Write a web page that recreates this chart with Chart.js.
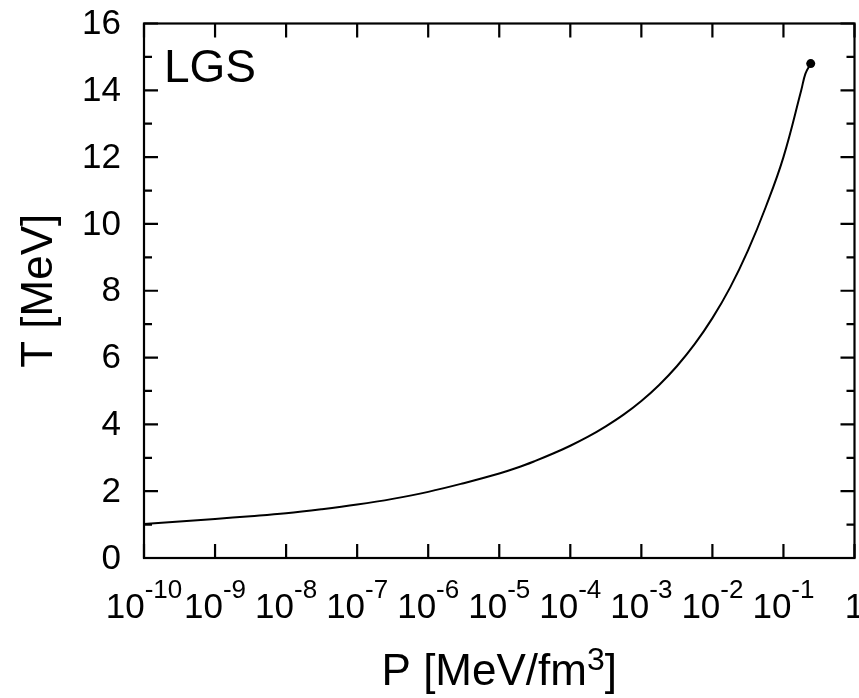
<!DOCTYPE html>
<html>
<head>
<meta charset="utf-8">
<script src="https://cdn.jsdelivr.net/npm/chart.js@4/dist/chart.umd.min.js"></script>
<style>
  html, body { margin: 0; padding: 0; background: #fff; }
  #wrap { width: 859px; height: 698px; position: relative; }
</style>
</head>
<body>
<div id="wrap"><canvas id="grafico"></canvas></div>
<script>
// dados (P em MeV/fm^3, T em MeV)
const pressao = [1e-10, 3.16e-10, 1e-9, 3.16e-9, 1e-8, 3.16e-8, 1e-7, 3.16e-7, 1e-6, 3.16e-6,
                 1e-5, 1.78e-5, 3.16e-5, 5.62e-5, 1e-4, 1.78e-4, 3.16e-4, 5.62e-4,
                 1e-3, 1.78e-3, 3.16e-3, 5.62e-3, 1e-2, 1.78e-2, 3.16e-2, 5.62e-2,
                 0.1, 0.178, 0.204, 0.242];
const temperatura = [1.02, 1.09, 1.17, 1.25, 1.34, 1.46, 1.6, 1.77, 1.98, 2.24,
                     2.53, 2.7, 2.9, 3.12, 3.36, 3.63, 3.94, 4.29,
                     4.7, 5.18, 5.74, 6.4, 7.18, 8.1, 9.2, 10.5,
                     12.0, 14.0, 14.5, 14.8];

// ponto final (marcado com bolinha)
const pontoFinalP = [0.242];
const pontoFinalT = [14.8];

// ticks
const expoentesX = [-10, -9, -8, -7, -6, -5, -4, -3, -2, -1, 0];
const ticksY = [0, 2, 4, 6, 8, 10, 12, 14, 16];
const ticksYMenores = [1, 3, 5, 7, 9, 11, 13, 15];

const rotulo = "LGS";
const tituloX = "P [MeV/fm";
const tituloXExp = "3";
const tituloY = "T [MeV]";

const FONTE = '"Liberation Sans", Arial, Helvetica, sans-serif';

const curva = pressao.map((p, i) => ({ x: p, y: temperatura[i] }));
const ponto = pontoFinalP.map((p, i) => ({ x: p, y: pontoFinalT[i] }));

// desenha moldura, ticks para dentro e textos no estilo gnuplot
const molduraPlugin = {
  id: "moldura",
  afterDraw(chart) {
    const { ctx, chartArea: a, scales } = chart;
    const sx = scales.x, sy = scales.y;
    ctx.save();
    ctx.strokeStyle = "#000";
    ctx.fillStyle = "#000";
    ctx.lineWidth = 2.2;
    ctx.strokeRect(a.left, a.top, a.right - a.left, a.bottom - a.top);

    const maior = 14, menor = 8;
    ctx.beginPath();
    expoentesX.forEach(e => {
      const x = sx.getPixelForValue(Math.pow(10, e));
      ctx.moveTo(x, a.bottom); ctx.lineTo(x, a.bottom - maior);
      ctx.moveTo(x, a.top); ctx.lineTo(x, a.top + maior);
    });
    ticksY.forEach(v => {
      const y = sy.getPixelForValue(v);
      ctx.moveTo(a.left, y); ctx.lineTo(a.left + maior, y);
      ctx.moveTo(a.right, y); ctx.lineTo(a.right - maior, y);
    });
    ticksYMenores.forEach(v => {
      const y = sy.getPixelForValue(v);
      ctx.moveTo(a.left, y); ctx.lineTo(a.left + menor, y);
      ctx.moveTo(a.right, y); ctx.lineTo(a.right - menor, y);
    });
    ctx.stroke();

    // rótulos do eixo y
    ctx.font = "35px " + FONTE;
    ctx.textAlign = "right";
    ctx.textBaseline = "middle";
    ticksY.forEach(v => {
      ctx.fillText(String(v), 121, sy.getPixelForValue(v) + 1);
    });

    // rótulos do eixo x: 10^n
    ctx.textBaseline = "alphabetic";
    ctx.textAlign = "left";
    const baseFonte = "35px " + FONTE, expFonte = "26px " + FONTE;
    expoentesX.forEach(e => {
      const x = sx.getPixelForValue(Math.pow(10, e));
      if (e === 0) {
        ctx.font = baseFonte;
        const w = ctx.measureText("1").width;
        ctx.fillText("1", x - w / 2, 618);
        return;
      }
      ctx.font = baseFonte;
      const wb = ctx.measureText("10").width;
      ctx.font = expFonte;
      const we = ctx.measureText(String(e)).width;
      const x0 = x - (wb + we) / 2;
      ctx.font = baseFonte;
      ctx.fillText("10", x0, 618);
      ctx.font = expFonte;
      ctx.fillText(String(e), x0 + wb, 598);
    });

    // título x com expoente
    ctx.font = "44px " + FONTE;
    const w1 = ctx.measureText(tituloX).width;
    const w3 = ctx.measureText("]").width;
    ctx.font = "32px " + FONTE;
    const w2 = ctx.measureText(tituloXExp).width;
    const cx = (a.left + a.right) / 2;
    let xt = cx - (w1 + w2 + w3) / 2;
    ctx.font = "44px " + FONTE;
    ctx.fillText(tituloX, xt, 685);
    ctx.font = "32px " + FONTE;
    ctx.fillText(tituloXExp, xt + w1, 670);
    ctx.font = "44px " + FONTE;
    ctx.fillText("]", xt + w1 + w2, 685);

    // título y
    ctx.save();
    ctx.translate(52, (a.top + a.bottom) / 2);
    ctx.rotate(-Math.PI / 2);
    ctx.textAlign = "center";
    ctx.fillText(tituloY, 0, 0);
    ctx.restore();

    // rótulo LGS
    ctx.font = "46px " + FONTE;
    ctx.textAlign = "left";
    ctx.fillText(rotulo, 164, 82);
    ctx.restore();
  }
};

document.addEventListener("DOMContentLoaded", function () {
  const ctx = document.getElementById("grafico");
  new Chart(ctx.getContext("2d"), {
    type: "scatter",
    data: {
      datasets: [
        {
          label: "LGS",
          data: curva,
          showLine: true,
          borderColor: "#000",
          borderWidth: 2,
          pointRadius: 0,
          tension: 0.4,
          fill: false
        },
        {
          label: "ponto final",
          data: ponto,
          showLine: false,
          pointRadius: 4.5,
          pointBackgroundColor: "#000",
          pointBorderColor: "#000",
          pointBorderWidth: 0
        }
      ]
    },
    options: {
      responsive: true,
      maintainAspectRatio: false,
      animation: false,
      layout: { padding: { left: 144, top: 23.5, right: 3, bottom: 140 } },
      plugins: { legend: { display: false }, tooltip: { enabled: false } },
      scales: {
        x: { type: "logarithmic", min: 1e-10, max: 1, display: false },
        y: { type: "linear", min: 0, max: 16, display: false }
      }
    },
    plugins: [molduraPlugin]
  });
});
</script>
</body>
</html>
